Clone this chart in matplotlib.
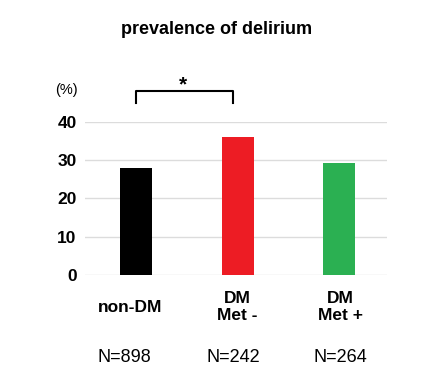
import matplotlib.pyplot as plt
from matplotlib.transforms import blended_transform_factory

groups = ['non-DM', 'DM\nMet -', 'DM\nMet +']
counts = ['N=898', 'N=242', 'N=264']
prevalence = [27.8, 36.0, 29.3]
colors = ['#000000', '#ed1c24', '#2bb052']
yticks = [0, 10, 20, 30, 40]

plt.rcParams['font.family'] = ['Liberation Sans', 'DejaVu Sans']

fig = plt.figure(figsize=(4.44, 3.77), dpi=100)
ax = fig.add_axes([85 / 444, 102 / 377, 302 / 444, 153.3 / 377])

x = range(len(groups))
ax.bar(x, prevalence, width=0.315, color=colors, zorder=3)

ax.set_xlim(-0.5, 2.47)
ax.set_ylim(0, 40)
ax.set_yticks(yticks)
ax.set_yticklabels([str(v) for v in yticks], fontsize=12.5, fontweight='bold')
ax.tick_params(axis='y', length=0, pad=6)
ax.set_xticks([])
ax.grid(axis='y', color='#dcdcdc', linewidth=1.0, zorder=0)
for s in ax.spines.values():
    s.set_visible(False)

# significance bracket
ax.plot([0, 0, 0.96, 0.96], [45, 48.1, 48.1, 45], color='black', lw=1.5,
        clip_on=False)
ax.text(0.46, 49.6, '*', ha='center', va='center', fontsize=15,
        fontweight='bold')

trans = blended_transform_factory(ax.transData, fig.transFigure)
label_dx = [-0.06, 0.0, 0.01]
for i, g in enumerate(groups):
    ax.text(i + label_dx[i], (377 - 307) / 377, g, transform=trans,
            ha='center', va='center', fontsize=12.5, fontweight='bold',
            linespacing=1.2)
n_dx = [-0.11, -0.04, 0.01]
for i, n in enumerate(counts):
    ax.text(i + n_dx[i], (377 - 358) / 377, n, transform=trans,
            ha='center', va='center', fontsize=13)

fig.text(66.5 / 444, (377 - 90) / 377, '(%)', ha='center', va='center',
         fontsize=10.5)
fig.text(217 / 444, (377 - 30) / 377, 'prevalence of delirium',
         ha='center', va='center', fontsize=13, fontweight='bold')

fig.savefig('out.png', dpi=100)
